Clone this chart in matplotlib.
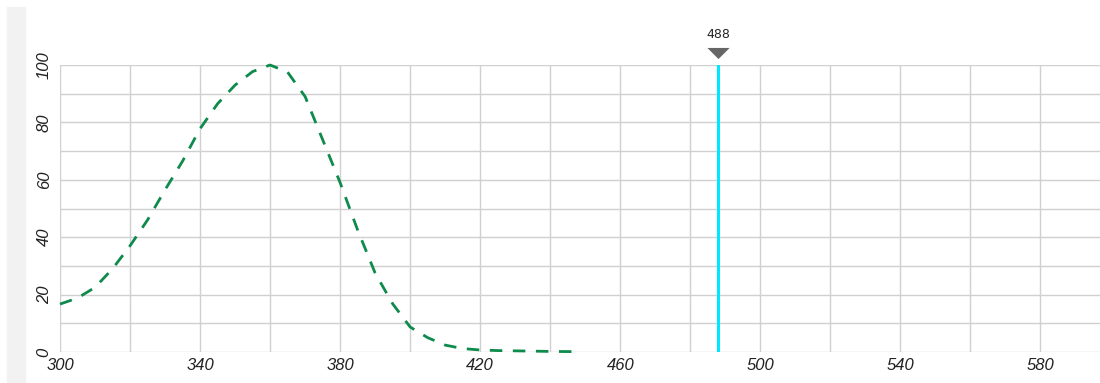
import matplotlib.pyplot as plt
from matplotlib.patches import Rectangle
from matplotlib.ticker import FixedLocator

# excitation spectrum (nm, relative %)
wavelength = [300, 305, 310, 315, 320, 325, 330, 335, 340, 345, 350, 355, 360,
              365, 370, 375, 380, 385, 390, 395, 400, 405, 410, 415, 420, 425,
              430, 435, 440, 445, 448]
intensity = [16.7, 18.8, 22.5, 29, 37, 46, 56.5, 66.5, 77.8, 86.5, 93, 97.7, 100,
             97.5, 89, 74, 59, 42.5, 27.5, 16.8, 8.7, 5, 2.4, 1.2, 0.7, 0.5,
             0.4, 0.3, 0.2, 0.15, 0.1]
x_labels = [300, 340, 380, 420, 460, 500, 540, 580]
x_grid = list(range(300, 600, 20))
y_labels = [0, 20, 40, 60, 80, 100]
y_grid = list(range(0, 101, 10))
laser_line = 488
laser_label = "488"


def main():
    plt.rcParams['font.family'] = ['Liberation Sans', 'DejaVu Sans']
    fig = plt.figure(figsize=(11, 3.83), dpi=100)
    fig.patches.append(Rectangle((7 / 1100, 0), 18 / 1100, 376 / 383,
                                 transform=fig.transFigure, color="#f2f2f2", zorder=0))
    ax = fig.add_axes([60 / 1100, 31 / 383, 1040 / 1100, 287 / 383])

    ax.plot(wavelength, intensity, color="#0e8a4c", lw=2.0,
            dashes=(4.5, 3.8), zorder=3, clip_on=False)
    ax.axvline(laser_line, color="#00e8ff", lw=2.2, zorder=2)
    ax.plot([laser_line], [104.3], marker=[(-1, 0.5), (1, 0.5), (0, -0.5)],
            ms=16, color="#666666", mec="none", clip_on=False)
    ax.text(laser_line, 110.5, laser_label, ha="center", va="center",
            fontsize=9, family="DejaVu Sans", color="#222222")

    ax.set_xlim(300, 597)
    ax.set_ylim(0, 100)
    ax.xaxis.set_major_locator(FixedLocator(x_labels))
    ax.xaxis.set_minor_locator(FixedLocator(x_grid))
    ax.yaxis.set_major_locator(FixedLocator(y_labels))
    ax.yaxis.set_minor_locator(FixedLocator(y_grid))
    ax.grid(which="both", color="#d0d0d0", lw=1.0)
    ax.set_axisbelow(True)
    for s in ax.spines.values():
        s.set_visible(False)
    ax.tick_params(which="both", length=0, labelsize=12, labelcolor="#222222")
    ax.tick_params(axis="x", pad=4)
    ax.tick_params(axis="y", pad=6)
    for lab in ax.get_xticklabels():
        lab.set_style("italic")
    for lab in ax.get_yticklabels():
        lab.set_style("italic")
        lab.set_rotation(90)
        lab.set_va("center")

    fig.savefig("out.png")


if __name__ == "__main__":
    main()
